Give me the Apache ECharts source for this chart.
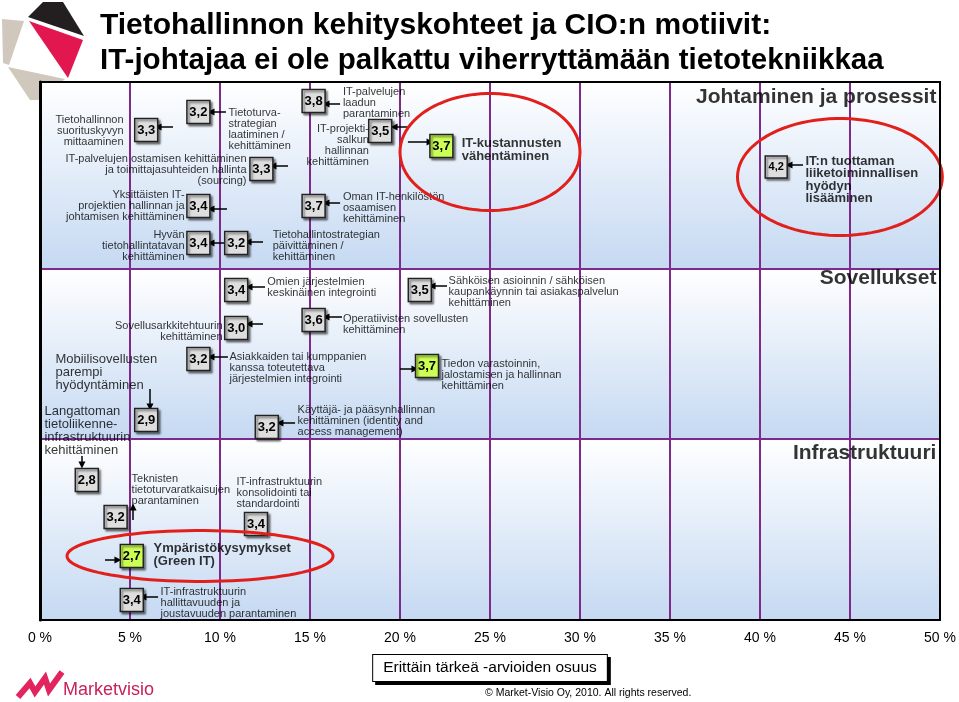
<!DOCTYPE html>
<html><head><meta charset="utf-8">
<script src="https://cdn.jsdelivr.net/npm/echarts@6/dist/echarts.min.js"></script>
<style>html,body{margin:0;padding:0;background:#fff}#c{width:959px;height:702px}</style>
</head><body><div id="c"></div>
<script>
// ---- data ----
const xTickStep = 5;
const bandNames = ['Johtaminen ja prosessit', 'Sovellukset', 'Infrastruktuuri'];
const bandStart = [0, 187, 357];
const bandEnd = [187, 357, 538];
const headerY = [15, 196, 371];

// value boxes: x = share of "very important" (%), y = vertical slot, value = mean rating
const boxX = [5.9, 8.8, 12.3, 8.8, 8.8, 10.9, 15.2, 18.9, 22.3, 15.2, 40.9,
              10.9, 10.9, 15.2, 8.8, 21.1, 21.5,
              5.9, 2.6, 4.2, 12.6, 12.0, 5.1, 5.1];
const boxY = [48, 30, 87, 124, 161, 161, 19, 49, 64, 124, 85,
              208, 246, 238, 277, 208, 284,
              338, 398, 435, 345, 442, 474, 518];
const boxValue = ['3,3', '3,2', '3,3', '3,4', '3,4', '3,2', '3,8', '3,5', '3,7', '3,7', '4,2',
                  '3,4', '3,0', '3,6', '3,2', '3,5', '3,7',
                  '2,9', '2,8', '3,2', '3,2', '3,4', '2,7', '3,4'];
const boxHighlight = [0, 0, 0, 0, 0, 0, 0, 0, 1, 0, 0,
                      0, 0, 0, 0, 0, 1,
                      0, 0, 0, 0, 0, 1, 0];

// labels
const labelX = [4.67, 10.44, 11.5, 8.06, 8.06, 12.9, 16.8, 18.3, 23.4, 16.8, 42.5,
                12.6, 10.17, 16.8, 10.5, 0.83, 22.67, 22.28,
                0.22, 5.06, 14.28, 10.89, 6.28, 6.67];
const labelY = [49, 47, 88, 124, 164, 164, 21, 63, 68, 126, 98,
                205, 249, 242, 286, 290, 210, 293,
                349, 408, 339, 411, 473, 521];
const labelText = [
  'Tietohallinnon\nsuorituskyvyn\nmittaaminen',
  'Tietoturva-\nstrategian\nlaatiminen /\nkehittäminen',
  'IT-palvelujen ostamisen kehittäminen\nja toimittajasuhteiden hallinta\n(sourcing)',
  'Yksittäisten IT-\nprojektien hallinnan ja\njohtamisen kehittäminen',
  'Hyvän\ntietohallintatavan\nkehittäminen',
  'Tietohallintostrategian\npäivittäminen /\nkehittäminen',
  'IT-palvelujen\nlaadun\nparantaminen',
  'IT-projekti-\nsalkun\nhallinnan\nkehittäminen',
  'IT-kustannusten\nvähentäminen',
  'Oman IT-henkilöstön\nosaamisen\nkehittäminen',
  'IT:n tuottaman\nliiketoiminnallisen\nhyödyn\nlisääminen',
  'Omien järjestelmien\nkeskinäinen integrointi',
  'Sovellusarkkitehtuurin\nkehittäminen',
  'Operatiivisten sovellusten\nkehittäminen',
  'Asiakkaiden tai kumppanien\nkanssa toteutettava\njärjestelmien integrointi',
  'Mobiilisovellusten\nparempi\nhyödyntäminen',
  'Sähköisen asioinnin / sähköisen\nkaupankäynnin tai asiakaspalvelun\nkehittäminen',
  'Tiedon varastoinnin,\njalostamisen ja hallinnan\nkehittäminen',
  'Langattoman\ntietoliikenne-\ninfrastruktuurin\nkehittäminen',
  'Teknisten\ntietoturvaratkaisujen\nparantaminen',
  'Käyttäjä- ja pääsynhallinnan\nkehittäminen (identity and\naccess management)',
  'IT-infrastruktuurin\nkonsolidointi tai\nstandardointi',
  'Ympäristökysymykset\n(Green IT)',
  'IT-infrastruktuurin\nhallittavuuden ja\njoustavuuden parantaminen'
];
const labelSide = ['L', 'R', 'L', 'L', 'L', 'R', 'R', 'L', 'R', 'R', 'R',
                   'R', 'L', 'R', 'R', 'R', 'R', 'R',
                   'R', 'R', 'R', 'R', 'R', 'R'];
const labelKind = ['n', 'n', 'n', 'n', 'n', 'n', 'n', 'n', 'b', 'n', 'b',
                   'n', 'n', 'n', 'n', 'm', 'n', 'n',
                   'm', 'n', 'n', 'n', 'b', 'n'];

// arrows: from (x1,y1) to (x2,y2)
const arrowX1 = [7.39, 10.33, 13.78, 10.39, 10.22, 12.39, 16.67, 20.44, 20.44, 16.67, 42.39,
                 12.5, 12.39, 16.78, 10.44, 6.11, 22.61, 20.0,
                 2.33, 5.17, 14.17, 3.61, 6.56];
const arrowY1 = [45, 30, 84, 127, 161, 160, 22, 45, 60, 121, 83,
                 205, 242, 235, 275, 307, 204, 287,
                 374, 438, 341, 478, 515];
const arrowX2 = [6.56, 9.5, 12.94, 9.5, 9.5, 11.56, 15.89, 19.67, 21.67, 15.89, 41.61,
                 11.61, 11.61, 15.89, 9.5, 6.11, 21.78, 20.83,
                 2.33, 5.17, 13.33, 4.33, 5.72];
const arrowY2 = [45, 30, 84, 127, 161, 160, 22, 45, 60, 121, 83,
                 205, 242, 235, 275, 325, 204, 287,
                 383, 425, 341, 478, 515];

// highlight ellipses (centre and radii in axis units)
const ellCx = [25.0, 44.44, 8.89];
const ellCy = [70, 95, 474];
const ellRx = [5.0, 5.69, 7.39];
const ellRy = [58.5, 58.5, 25.5];

const FONT = '"Liberation Sans", Arial, sans-serif';
const PURPLE = '#7d2a8c';

const kindStyle = {
  n: {fontSize: 11, lineHeight: 11, fontWeight: 'normal'},
  m: {fontSize: 13, lineHeight: 13, fontWeight: 'normal'},
  b: {fontSize: 13, lineHeight: 12.5, fontWeight: 'bold'}
};

const chart = echarts.init(document.getElementById('c'));
chart.setOption({
  backgroundColor: '#fff',
  animation: false,
  grid: {left: 40, right: 19, top: 82, bottom: 82, show: true, borderColor: '#000', borderWidth: 2,
         backgroundColor: 'transparent', z: 10},
  xAxis: {
    type: 'value', min: 0, max: 50, interval: xTickStep, z: 3,
    axisLine: {show: false}, axisTick: {show: false},
    axisLabel: {formatter: '{value} %', fontSize: 14, color: '#000', margin: 11, fontFamily: FONT},
    splitLine: {show: true, lineStyle: {color: PURPLE, width: 2}},
    name: 'Erittäin tärkeä -arvioiden osuus', nameLocation: 'middle', nameGap: 35,
    nameTextStyle: {fontSize: 15.5, color: '#000', fontFamily: FONT, backgroundColor: '#fff',
      borderColor: '#000', borderWidth: 1, padding: [5, 10, 5, 10],
      shadowColor: '#000', shadowOffsetX: 3, shadowOffsetY: 3, shadowBlur: 0}
  },
  yAxis: {
    type: 'value', min: 0, max: 538, inverse: true, z: 11,
    axisLine: {show: true, lineStyle: {color: '#000', width: 3}},
    axisTick: {show: false}, axisLabel: {show: false}, splitLine: {show: false}
  },
  graphic: [
    {type: 'polygon', z: 1, shape: {points: [[28, 17], [43, 2], [63, 2], [84, 36]]}, style: {fill: '#231f20'}},
    {type: 'polygon', z: 1, shape: {points: [[29, 21], [83, 40], [68, 78]]}, style: {fill: '#e3174f'}},
    {type: 'polygon', z: 1, shape: {points: [[2, 19], [24, 21], [9, 65], [3, 63]]}, style: {fill: '#d1c8bd'}},
    {type: 'polygon', z: 1, shape: {points: [[8, 67], [65, 79], [40, 100], [30, 100]]}, style: {fill: '#d1c8bd'}},
    {type: 'text', z: 20, style: {x: 100, y: 26, text: 'Tietohallinnon kehityskohteet ja CIO:n motiivit:',
      font: 'bold 30px ' + FONT, fill: '#000', textVerticalAlign: 'middle'}},
    {type: 'text', z: 20, style: {x: 100, y: 61, text: 'IT-johtajaa ei ole palkattu viherryttämään tietotekniikkaa',
      font: 'bold 29.5px ' + FONT, fill: '#000', textVerticalAlign: 'middle'}},
    {type: 'polyline', z: 20, shape: {points: [[18, 697], [30, 683], [35, 692], [45, 678], [49, 690], [62, 672]]},
      style: {stroke: '#e2245f', lineWidth: 6, fill: null, lineJoin: 'miter'}},
    {type: 'text', z: 20, style: {x: 63, y: 690, text: 'Marketvisio', font: '18px ' + FONT, fill: '#c8205c',
      textVerticalAlign: 'middle'}},
    {type: 'text', z: 20, style: {x: 485, y: 693, text: '© Market-Visio Oy, 2010. All rights reserved.',
      font: '10.5px ' + FONT, fill: '#000', textVerticalAlign: 'middle'}}
  ],
  series: [
    {
      type: 'custom', z: 1, silent: true,
      data: bandStart.map((s, i) => [0, s, bandEnd[i]]),
      renderItem: function (params, api) {
        const i = params.dataIndex;
        const p0 = api.coord([0, bandStart[i]]);
        const p1 = api.coord([50, bandEnd[i]]);
        const children = [{
          type: 'rect',
          shape: {x: p0[0], y: p0[1], width: p1[0] - p0[0], height: p1[1] - p0[1]},
          style: {fill: new echarts.graphic.LinearGradient(0, 0, 0, 1, [
            {offset: 0, color: '#ffffff'}, {offset: 1, color: '#c5d9f2'}])}
        }];
        if (i > 0) children.push({type: 'line', shape: {x1: p0[0], y1: p0[1], x2: p1[0], y2: p0[1]},
          style: {stroke: PURPLE, lineWidth: 2}});
        return {type: 'group', children: children};
      }
    },
    {
      type: 'lines', coordinateSystem: 'cartesian2d', z: 6, silent: true,
      symbol: ['none', 'triangle'], symbolSize: 7,
      lineStyle: {color: '#000', width: 1.5, opacity: 1, curveness: 0},
      data: arrowX1.map((x, i) => ({coords: [[x, arrowY1[i]], [arrowX2[i], arrowY2[i]]]}))
    },
    {
      type: 'scatter', z: 7, silent: true, symbol: 'rect',
      itemStyle: {borderColor: '#222', borderWidth: 1.5, shadowColor: 'rgba(0,0,0,0.45)',
        shadowOffsetX: 2, shadowOffsetY: 2, shadowBlur: 2, opacity: 1},
      label: {show: true, position: 'inside', color: '#000', fontWeight: 'bold', fontFamily: FONT,
        formatter: p => p.data.txt},
      data: boxX.map((x, i) => ({
        value: [x, boxY[i]], txt: boxValue[i],
        symbolSize: boxValue[i] === '4,2' ? 22 : 23,
        itemStyle: {color: boxHighlight[i] ? '#ccff55' : '#dedede'},
        label: {color: '#000', fontSize: boxValue[i] === '4,2' ? 11 : 13}
      }))
    },
    {
      type: 'scatter', z: 8, silent: true, symbolSize: 1,
      itemStyle: {color: 'rgba(0,0,0,0)'},
      label: {show: true, color: '#000', fontFamily: FONT, distance: 0, formatter: p => p.data.txt},
      data: labelX.map((x, i) => ({
        value: [x, labelY[i]], txt: labelText[i],
        label: Object.assign({position: labelSide[i] === 'L' ? 'left' : 'right', color: '#000',
          align: labelSide[i] === 'L' ? 'right' : 'left'}, kindStyle[labelKind[i]])
      })).concat(bandNames.map((n, i) => ({
        value: [49.83, headerY[i]], txt: n,
        label: {position: 'left', align: 'right', fontSize: 21, fontWeight: 'bold', color: '#000'}
      })))
    },
    {
      type: 'custom', z: 9, silent: true,
      data: ellCx.map((x, i) => [x, ellCy[i]]),
      renderItem: function (params, api) {
        const i = params.dataIndex;
        const c = api.coord([ellCx[i], ellCy[i]]);
        const s = api.size([ellRx[i], ellRy[i]]);
        const pts = [];
        for (let k = 0; k < 90; k++) {
          const t = k / 90 * Math.PI * 2;
          pts.push([c[0] + s[0] * Math.cos(t), c[1] + s[1] * Math.sin(t)]);
        }
        return {type: 'polygon', shape: {points: pts}, style: {fill: null, stroke: '#e1201c', lineWidth: 3}};
      }
    }
  ]
});
</script></body></html>
